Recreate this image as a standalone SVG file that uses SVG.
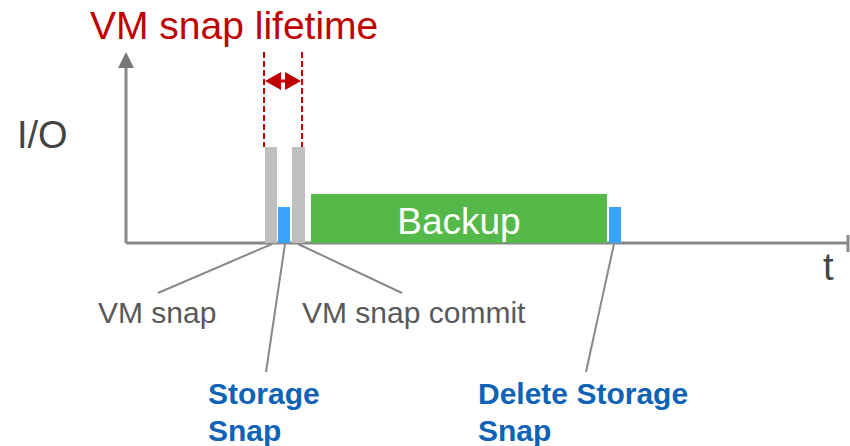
<svg xmlns="http://www.w3.org/2000/svg" width="850" height="446" viewBox="0 0 850 446">
<defs>
<style>
.ax{stroke:#888;stroke-width:3;fill:none}
.lead{stroke:#888;stroke-width:2;fill:none}
.gray{fill:#bfbfbf}
.blue{fill:#3aa3ff}
.red{stroke:#c00000;stroke-width:2;stroke-dasharray:6,3;fill:none}
.t{font-family:"Liberation Sans",Arial,sans-serif}
.lbl{font-size:30px;fill:#595959}
.bl{font-size:30px;font-weight:bold;fill:#0e63b6}
</style>
</defs>
<rect width="850" height="446" fill="#fff"/>
<g id="axes">
<path class="ax" d="M126,243 L126,66"/>
<path d="M118,68 L126,52 L134,68 Z" fill="#777"/>
<path class="ax" d="M126,243 L848,243"/>
<path class="ax" d="M848,235 L848,252"/>
</g>
<g id="bars">
<rect id="vmsnap" class="gray" x="265" y="147" width="12" height="96"/>
<rect id="storagesnap" class="blue" x="278" y="207" width="12" height="36"/>
<rect id="vmcommit" class="gray" x="292" y="147" width="13" height="96"/>
<g id="backup">
<rect x="311" y="194" width="296" height="49" fill="#54b948"/>
<text class="t" x="459" y="234" font-size="37" fill="#fff" text-anchor="middle">Backup</text>
</g>
<rect id="deletesnap" class="blue" x="609" y="207" width="12" height="36"/>
</g>
<g id="lifetime">
<path class="red" d="M264,52 L264,147"/>
<path class="red" d="M302,52 L302,147"/>
<path d="M278,81 L288,81" stroke="#c00000" stroke-width="3"/>
<path d="M265,81 L281,72 L281,90 Z" fill="#c00000"/>
<path d="M301,81 L285,72 L285,90 Z" fill="#c00000"/>
<text class="t" x="90" y="39" font-size="39" fill="#c00000">VM snap lifetime</text>
</g>
<g id="connectors">
<path class="lead" d="M272,244 L158,293"/>
<path class="lead" d="M285,244 L266,372"/>
<path class="lead" d="M298,244 L402,293"/>
<path class="lead" d="M614,244 L586,372"/>
</g>
<g id="labels">
<text class="t" x="17" y="148" font-size="38" fill="#444">I/O</text>
<text class="t" x="823" y="280" font-size="38" fill="#444">t</text>
<text class="t lbl" x="98" y="323">VM snap</text>
<text class="t lbl" x="302" y="323">VM snap commit</text>
<text class="t bl" x="208" y="404">Storage</text>
<text class="t bl" x="208" y="441">Snap</text>
<text class="t bl" x="478" y="404">Delete Storage</text>
<text class="t bl" x="478" y="441">Snap</text>
</g>
</svg>
